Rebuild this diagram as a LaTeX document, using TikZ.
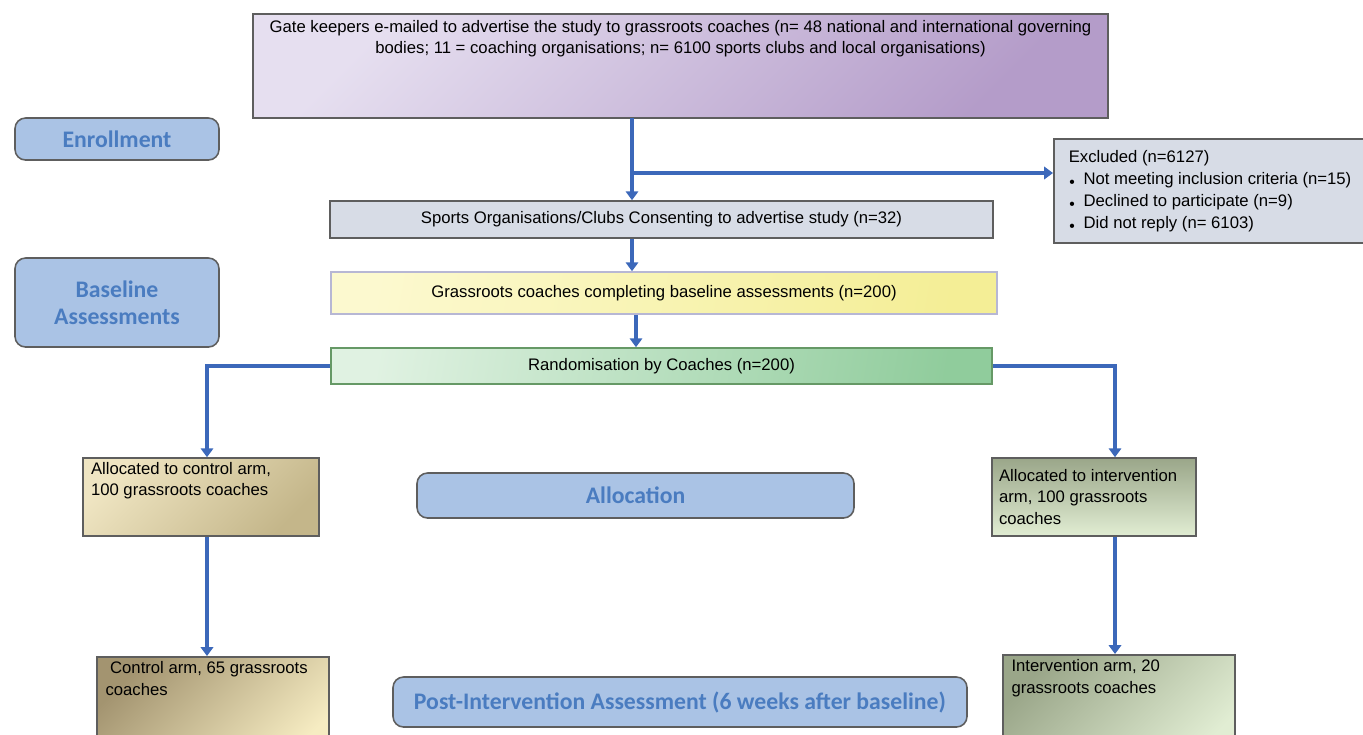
\documentclass[tikz,border=0pt]{standalone}
\usepackage{fontspec}
\setmainfont{Liberation Sans}
\newfontfamily\labelfont{Carlito}
\usetikzlibrary{arrows.meta,calc}
\definecolor{flowblue}{HTML}{3C68BA}
\definecolor{labfill}{HTML}{AAC3E5}
\definecolor{labtext}{HTML}{4A7CC0}
\definecolor{edgegray}{HTML}{5E5E5E}
\definecolor{lavlight}{HTML}{E6DFF0}
\definecolor{lavdark}{HTML}{B49CC9}
\definecolor{greyblue}{HTML}{D7DCE6}
\definecolor{yellowlight}{HTML}{FCF9CF}
\definecolor{yellowdark}{HTML}{F4EE96}
\definecolor{greenlight}{HTML}{E0F2E2}
\definecolor{greendark}{HTML}{90CC9C}
\definecolor{tanlight}{HTML}{EFE5C2}
\definecolor{tandark}{HTML}{C4B68A}
\definecolor{tandeep}{HTML}{A39470}
\definecolor{tanpale}{HTML}{F6ECC2}
\definecolor{olivedark}{HTML}{9AA689}
\definecolor{olivelight}{HTML}{E1EDD3}
\tikzset{
	box/.style={draw=edgegray, line width=0.9pt, minimum width=#1, inner sep=0pt, font=\fontsize{9.5}{12.4}\selectfont},
	phase/.style={draw=edgegray, line width=0.9pt, rounded corners=6pt, fill=labfill, text=labtext, align=center, font=\labelfont\bfseries\fontsize{13.5}{15.6}\selectfont},
	flow/.style={draw=flowblue, line width=2.1pt, -{Triangle[length=5pt,width=7pt]}}
}
\begin{document}
\begin{tikzpicture}
				\useasboundingbox (0,0) rectangle (27.26,-14.68);
				
				\node[box=17.1cm, minimum height=2.08cm, shading=axis, left color=lavlight, right color=lavdark, shading angle=45] (gate) at (13.61,-1.32) {\parbox[t][1.84cm][t]{16.9cm}{\centering Gate keepers e-mailed to advertise the study to grassroots coaches (n= 48 national and international governing\\ bodies; 11 = coaching organisations; n= 6100 sports clubs and local organisations)}};
				
				\node[phase, minimum width=4.08cm, minimum height=0.84cm] (enrol) at (2.34,-2.78) {Enrollment};
				\node[phase, minimum width=4.08cm, minimum height=1.78cm] (basel) at (2.34,-6.05) {\raisebox{2pt}{\parbox{3.8cm}{\centering Baseline\\Assessments}}};
				
				\node[box=6.4cm, minimum height=2.08cm, fill=greyblue, anchor=west, align=left] (excl) at (21.06,-3.82) {\hspace{0.2cm}\parbox{6cm}{Excluded (n=6127)\\[0.5pt]
					{\tiny$\bullet$}\enspace Not meeting inclusion criteria (n=15)\\
					{\tiny$\bullet$}\enspace Declined to participate (n=9)\\
					{\tiny$\bullet$}\enspace Did not reply (n= 6103)}};
				
				\node[box=13.26cm, minimum height=0.74cm, fill=greyblue] (sports) at (13.23,-4.39) {Sports Organisations/Clubs Consenting to advertise study (n=32)};
				\node[box=13.32cm, minimum height=0.84cm, draw=blue!25!gray!45, shading=axis, left color=yellowlight, right color=yellowdark, shading angle=80] (grass) at (13.28,-5.86) {Grassroots coaches completing baseline assessments (n=200)};
				\node[box=13.22cm, minimum height=0.72cm, draw=green!20!gray, shading=axis, left color=greenlight, right color=greendark, shading angle=80] (random) at (13.23,-7.32) {Randomisation by Coaches (n=200)};
				
				\node[box=4.72cm, minimum height=1.56cm, shading=axis, left color=tanlight, right color=tandark, shading angle=45] (allocctl) at (4.02,-9.94) {\parbox[t][1.4cm][t]{4.4cm}{Allocated to control arm,\\100 grassroots coaches}};
				\node[box=4.08cm, minimum height=1.56cm, shading=axis, top color=olivedark, bottom color=olivelight] (allocint) at (21.88,-9.94) {\parbox{3.8cm}{Allocated to intervention\\arm, 100 grassroots\\coaches}};
				\node[phase, minimum width=8.74cm, minimum height=0.9cm] (alloc) at (12.71,-9.91) {Allocation};
				
				\node[box=4.64cm, minimum height=2.2cm, anchor=north, shading=axis, left color=tandeep, right color=tanpale, shading angle=45] (ctlarm) at (4.26,-13.12) {\parbox[t][2cm][t]{4.3cm}{\ Control arm, 65 grassroots\\coaches}};
				\node[box=4.64cm, minimum height=2.2cm, anchor=north, shading=axis, left color=olivedark, right color=olivelight, shading angle=45] (intarm) at (22.38,-13.08) {\parbox[t][2cm][t]{4.3cm}{Intervention arm, 20\\grassroots coaches}};
				\node[phase, minimum width=11.48cm, minimum height=1.0cm] (post) at (13.6,-14.04) {Post-Intervention Assessment (6 weeks after baseline)};
				
				\coordinate (trunk) at (12.64,-2.36);
				\coordinate (split) at (12.64,-3.46);
				\coordinate (rside) at (22.3,-7.32);
				\draw[flow] (trunk) -- (trunk |- sports.north);
				\draw[flow] (split) -- (split -| excl.west);
				\draw[flow] (sports.south -| trunk) -- (grass.north -| trunk);
				\draw[flow] ([xshift=0.08cm]grass.south -| trunk) -- ([xshift=0.08cm]random.north -| trunk);
				\draw[flow] (random.west) -| ([xshift=0.12cm]allocctl.north);
				\draw[flow] (random.east) -| (rside |- allocint.north);
				\draw[flow] ([xshift=0.12cm]allocctl.south) -- ([xshift=0.12cm]allocctl.south |- ctlarm.north);
				\draw[flow] (rside |- allocint.south) -- (rside |- intarm.north);
			\end{tikzpicture}
\end{document}
